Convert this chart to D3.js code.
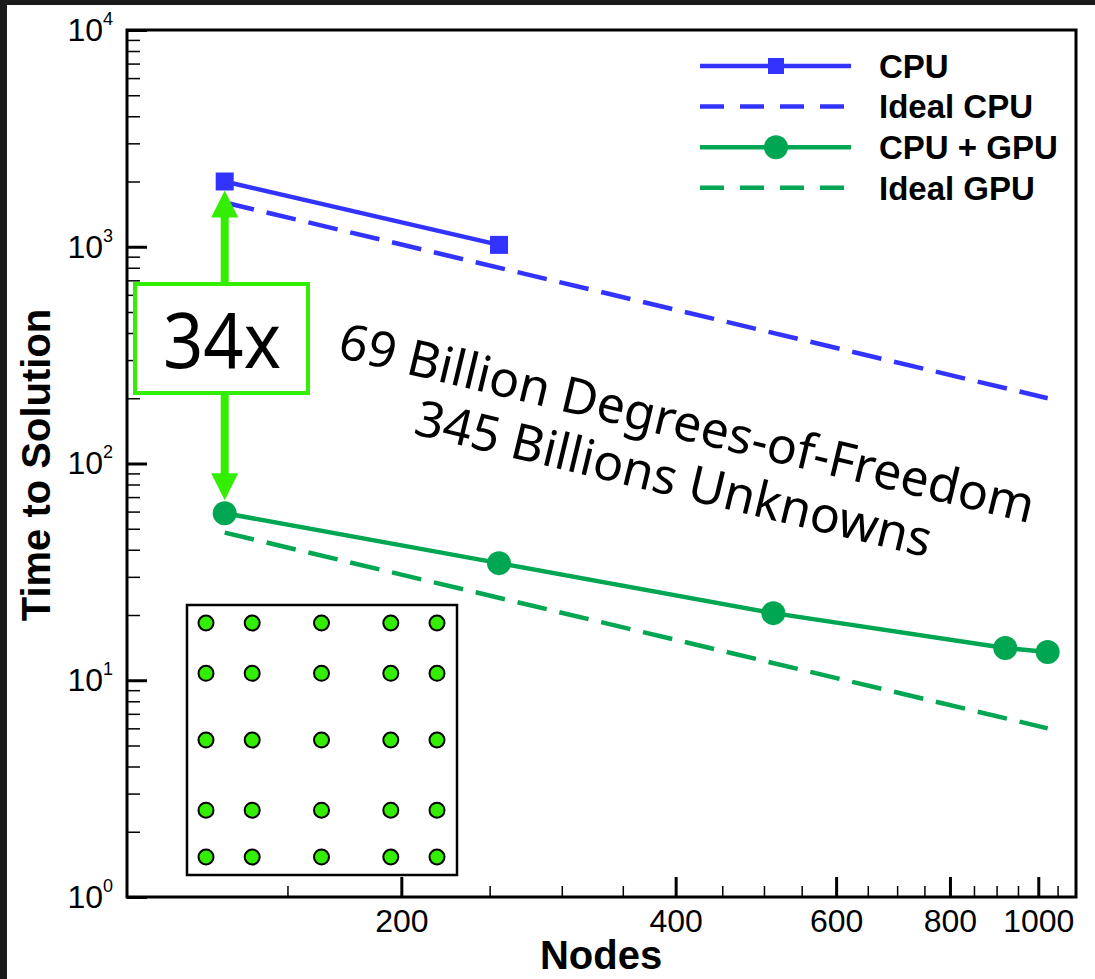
<!DOCTYPE html>
<html>
<head>
<meta charset="utf-8">
<script src="https://cdn.jsdelivr.net/npm/d3@7"></script>
<style>
  html, body { margin: 0; padding: 0; background: #fff; }
  svg { display: block; }
</style>
</head>
<body>
<div id="chart"></div>
<script>
// --- data ---
const nodesCPU = [128, 256];
const timeCPU = [2000, 1020];
const nodesGPU = [128, 256, 512, 920, 1024];
const timeGPU = [59, 34.7, 20.4, 14.1, 13.5];
const nodesIdeal = [128, 1024];
const idealCPU = [1600, 200];
const idealGPU = [48, 6];

const seriesNames = ["CPU", "Ideal CPU", "CPU + GPU", "Ideal GPU"];
const xMajorTicks = [200, 400, 600, 800, 1000];
const xMinorTicks = [150, 250, 300, 350, 450, 500, 550, 650, 700, 750, 850, 900, 950, 1050];
const yMajorTicks = [1, 10, 100, 1000, 10000];
const yExponents = ["0", "1", "2", "3", "4"];
const speedupLabel = "34x";
const noteLines = ["69 Billion Degrees-of-Freedom", "345 Billions Unknowns"];
// inset: 5x5 node grid, reference coords in [-1, 1]
const insetX = [-1, -0.6, 0, 0.6, 1];
const insetY = [-1, -0.57, 0, 0.6, 1];

const W = 1095, H = 979;
const BLUE = "#3333ff", GREEN = "#00a651", BRIGHT = "#33ee00";
const plot = { left: 127, right: 1076, top: 30, bottom: 897 };

const svg = d3.select("#chart").append("svg")
  .attr("width", W).attr("height", H);

// dark frame of the screenshot (top + left)
svg.append("rect").attr("width", W).attr("height", H).attr("fill", "#1a1a1a");
svg.append("rect").attr("x", 7).attr("y", 5).attr("width", W - 7).attr("height", H - 5).attr("fill", "#fff");

const x = d3.scaleLog().domain([100, 1100]).range([plot.left, plot.right]);
const y = d3.scaleLog().domain([1, 10000]).range([plot.bottom, plot.top]);

const axisFont = "'Liberation Sans', Arial, Helvetica, sans-serif";

// y minor ticks
const yMinor = [];
for (let d = 0; d < 4; d++) for (let m = 2; m <= 9; m++) yMinor.push(m * Math.pow(10, d));

svg.append("g")
  .attr("transform", `translate(${plot.left},0)`)
  .call(d3.axisLeft(y).tickValues(yMinor).tickSize(-13).tickFormat(""))
  .call(g => g.select(".domain").remove())
  .call(g => g.selectAll("line").attr("stroke", "#000").attr("stroke-width", 1.5));

const yAxis = svg.append("g")
  .attr("transform", `translate(${plot.left},0)`)
  .call(d3.axisLeft(y).tickValues(yMajorTicks).tickSize(-20).tickPadding(14).tickFormat(() => "10"))
  .call(g => g.select(".domain").remove())
  .call(g => g.selectAll("line").attr("stroke", "#000").attr("stroke-width", 3));
yAxis.selectAll(".tick text")
  .attr("font-family", axisFont).attr("font-size", 32).attr("fill", "#000")
  .append("tspan").attr("dy", -16).attr("font-size", 18)
  .text((d, i) => yExponents[i]);

// x ticks
svg.append("g")
  .attr("transform", `translate(0,${plot.bottom})`)
  .call(d3.axisBottom(x).tickValues(xMinorTicks).tickSize(-11).tickFormat(""))
  .call(g => g.select(".domain").remove())
  .call(g => g.selectAll("line").attr("stroke", "#000").attr("stroke-width", 1.5));

svg.append("g")
  .attr("transform", `translate(0,${plot.bottom})`)
  .call(d3.axisBottom(x).tickValues(xMajorTicks).tickSize(-20).tickPadding(12).tickFormat(d3.format("d")))
  .call(g => g.select(".domain").remove())
  .call(g => g.selectAll("line").attr("stroke", "#000").attr("stroke-width", 3))
  .call(g => g.selectAll("text").attr("font-family", axisFont).attr("font-size", 32).attr("fill", "#000"));

// frame
svg.append("rect")
  .attr("x", plot.left).attr("y", plot.top)
  .attr("width", plot.right - plot.left).attr("height", plot.bottom - plot.top)
  .attr("fill", "none").attr("stroke", "#000").attr("stroke-width", 3);

// axis titles
svg.append("text")
  .attr("x", 601).attr("y", 969)
  .attr("text-anchor", "middle")
  .attr("font-family", axisFont).attr("font-weight", "bold").attr("font-size", 40)
  .text("Nodes");
svg.append("text")
  .attr("transform", "translate(50,465) rotate(-90)")
  .attr("text-anchor", "middle")
  .attr("font-family", axisFont).attr("font-weight", "bold").attr("font-size", 40)
  .text("Time to Solution");

// series
const line = d3.line().x(d => x(d[0])).y(d => y(d[1]));
const gLines = svg.append("g").attr("fill", "none").attr("stroke-width", 4.5);

gLines.append("path").datum(d3.zip(nodesIdeal, idealCPU))
  .attr("d", line).attr("stroke", BLUE).attr("stroke-dasharray", "30,13");
gLines.append("path").datum(d3.zip(nodesIdeal, idealGPU))
  .attr("d", line).attr("stroke", GREEN).attr("stroke-dasharray", "30,13");
gLines.append("path").datum(d3.zip(nodesCPU, timeCPU))
  .attr("d", line).attr("stroke", BLUE);
gLines.append("path").datum(d3.zip(nodesGPU, timeGPU))
  .attr("d", line).attr("stroke", GREEN);

svg.append("g").selectAll("rect")
  .data(d3.zip(nodesCPU, timeCPU))
  .join("rect")
  .attr("x", d => x(d[0]) - 9).attr("y", d => y(d[1]) - 9)
  .attr("width", 18).attr("height", 18).attr("fill", BLUE);

svg.append("g").selectAll("circle")
  .data(d3.zip(nodesGPU, timeGPU))
  .join("circle")
  .attr("cx", d => x(d[0])).attr("cy", d => y(d[1]))
  .attr("r", 12).attr("fill", GREEN);

// speedup arrow between the two 128-node results
const ax = x(nodesCPU[0]);
const yTop = y(timeCPU[0]) + 9;
const yBot = y(timeGPU[0]) - 13;
const head = 27, halfW = 13.5;
svg.append("line")
  .attr("x1", ax).attr("x2", ax).attr("y1", yTop + head - 2).attr("y2", yBot - head + 2)
  .attr("stroke", BRIGHT).attr("stroke-width", 8);
svg.append("path")
  .attr("d", `M${ax},${yTop} L${ax - halfW},${yTop + head} L${ax + halfW},${yTop + head} Z
              M${ax},${yBot} L${ax - halfW},${yBot - head} L${ax + halfW},${yBot - head} Z`)
  .attr("fill", BRIGHT);

svg.append("rect")
  .attr("x", 135).attr("y", 284).attr("width", 173).attr("height", 109)
  .attr("fill", "#fff").attr("stroke", BRIGHT).attr("stroke-width", 4);
svg.append("text")
  .attr("x", 222).attr("y", 368)
  .attr("text-anchor", "middle")
  .attr("font-family", "'Noto Sans', 'Open Sans', sans-serif").attr("font-size", 76)
  .attr("textLength", 118).attr("lengthAdjust", "spacingAndGlyphs")
  .text(speedupLabel);

// rotated annotation
const note = svg.append("g")
  .attr("transform", "translate(683,440) rotate(13.5)")
  .attr("font-family", "'Noto Sans', 'Open Sans', sans-serif")
  .attr("font-size", 50)
  .attr("text-anchor", "middle");
note.selectAll("text").data(noteLines).join("text")
  .attr("x", 0).attr("y", (d, i) => i * 57)
  .text(d => d);

// inset with node layout
const inset = { left: 187, top: 605, right: 457, bottom: 875 };
svg.append("rect")
  .attr("x", inset.left).attr("y", inset.top)
  .attr("width", inset.right - inset.left).attr("height", inset.bottom - inset.top)
  .attr("fill", "#fff").attr("stroke", "#000").attr("stroke-width", 2.5);
const ix = d3.scaleLinear().domain([-1, 1]).range([206, 437]);
const iy = d3.scaleLinear().domain([-1, 1]).range([623, 857]);
const grid = d3.cross(insetX, insetY);
svg.append("g").selectAll("circle")
  .data(grid)
  .join("circle")
  .attr("cx", d => ix(d[0])).attr("cy", d => iy(d[1]))
  .attr("r", 7.5).attr("fill", BRIGHT).attr("stroke", "#000").attr("stroke-width", 2);

// legend
const legend = svg.append("g").attr("transform", "translate(700,66)");
const legendStyle = [
  { color: BLUE, dash: null, marker: "square" },
  { color: BLUE, dash: "24,16", marker: null },
  { color: GREEN, dash: null, marker: "circle" },
  { color: GREEN, dash: "24,16", marker: null },
];
const rows = legend.selectAll("g").data(seriesNames).join("g")
  .attr("transform", (d, i) => `translate(0,${i * 40.6})`);
rows.append("line")
  .attr("x1", 0).attr("x2", 151)
  .attr("stroke", (d, i) => legendStyle[i].color)
  .attr("stroke-width", 4.5)
  .attr("stroke-dasharray", (d, i) => legendStyle[i].dash);
rows.filter((d, i) => legendStyle[i].marker === "square").append("rect")
  .attr("x", 76 - 8).attr("y", -8).attr("width", 16).attr("height", 16).attr("fill", BLUE);
rows.filter((d, i) => legendStyle[i].marker === "circle").append("circle")
  .attr("cx", 76).attr("r", 12).attr("fill", GREEN);
rows.append("text")
  .attr("x", 179).attr("dy", "0.36em")
  .attr("font-family", axisFont).attr("font-weight", "bold").attr("font-size", 33)
  .text(d => d);
</script>
</body>
</html>
